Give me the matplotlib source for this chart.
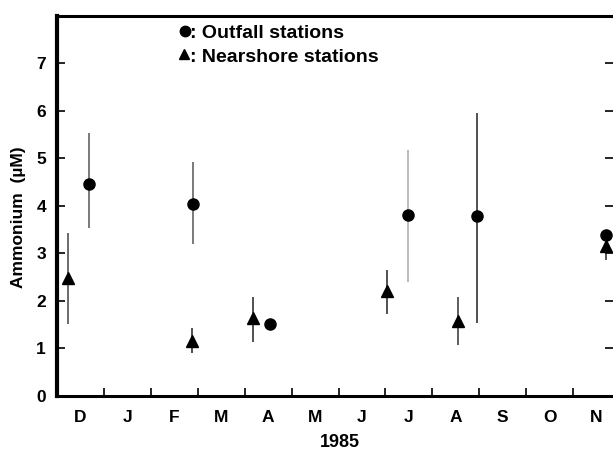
import matplotlib.pyplot as plt
import numpy as np

plt.rcParams['font.family'] = ['Liberation Sans', 'DejaVu Sans']
plt.rcParams['font.weight'] = 'bold'

months = ['D', 'J', 'F', 'M', 'A', 'M', 'J', 'J', 'A', 'S', 'O', 'N']

# x in months since 1 Dec 1984
out_x = [0.68, 2.89, 4.53, 7.49, 8.96, 11.7]
out_y = [4.46, 4.04, 1.52, 3.81, 3.79, 3.39]
out_lo = [3.53, 3.20, np.nan, 2.40, 1.54, np.nan]
out_hi = [5.54, 4.93, np.nan, 5.18, 5.96, np.nan]
out_col = ['#555555', '#555555', 'k', '#aaaaaa', '#222222', 'k']

near_x = [0.23, 2.87, 4.17, 7.04, 8.55, 11.7]
near_y = [2.48, 1.16, 1.64, 2.21, 1.58, 3.16]
near_lo = [1.52, 0.90, 1.14, 1.73, 1.07, 2.86]
near_hi = [3.43, 1.43, 2.08, 2.65, 2.08, 3.16]
near_col = ['#444444', '#222222', '#222222', '#222222', '#333333', '#222222']

fig = plt.figure(figsize=(6.13, 4.53), dpi=100)
ax = fig.add_axes([0.093, 0.126, 0.907, 0.839])

ax.vlines(out_x, out_lo, out_hi, colors=out_col, lw=1.1, zorder=2)
ax.vlines(near_x, near_lo, near_hi, colors=near_col, lw=1.1, zorder=2)
ax.plot(out_x, out_y, 'o', color='k', ms=8, zorder=3)
ax.plot(near_x, near_y, '^', color='k', ms=8, zorder=3)

ax.set_xlim(0, 11.85)
ax.set_ylim(0, 8)
ax.set_yticks(range(0, 8))
ax.set_xticks(range(1, 12))
ax.set_xticklabels([])
ax.set_xticks(np.arange(12) + 0.5, minor=True)
ax.set_xticklabels(months, minor=True)

ax.tick_params(axis='both', which='major', direction='in', length=6, width=1.2,
               labelsize=12.5)
ax.tick_params(axis='y', which='major', right=True, pad=8)
ax.tick_params(axis='x', which='minor', length=0, pad=10, labelsize=12.5)

ax.spines['left'].set_linewidth(3)
for s in ['top', 'bottom']:
    ax.spines[s].set_linewidth(2.2)
ax.spines['right'].set_visible(False)

ax.set_ylabel('Ammonium  (µM)', fontsize=12.5, fontweight='bold')
ax.yaxis.set_label_coords(-0.055, 0.47)
ax.set_xlabel('1985', fontsize=13, fontweight='bold')
ax.xaxis.set_label_coords(0.509, -0.1)

# key
ax.plot([0.23], [0.96], 'o', color='k', ms=7.5, transform=ax.transAxes, clip_on=False)
ax.text(0.24, 0.958, ': Outfall stations', transform=ax.transAxes,
        fontsize=14, fontweight='bold', va='center_baseline', ha='left')
ax.plot([0.229], [0.899], '^', color='k', ms=7.5, transform=ax.transAxes, clip_on=False)
ax.text(0.24, 0.897, ': Nearshore stations', transform=ax.transAxes,
        fontsize=14, fontweight='bold', va='center_baseline', ha='left')

fig.savefig('out.png', dpi=100)
